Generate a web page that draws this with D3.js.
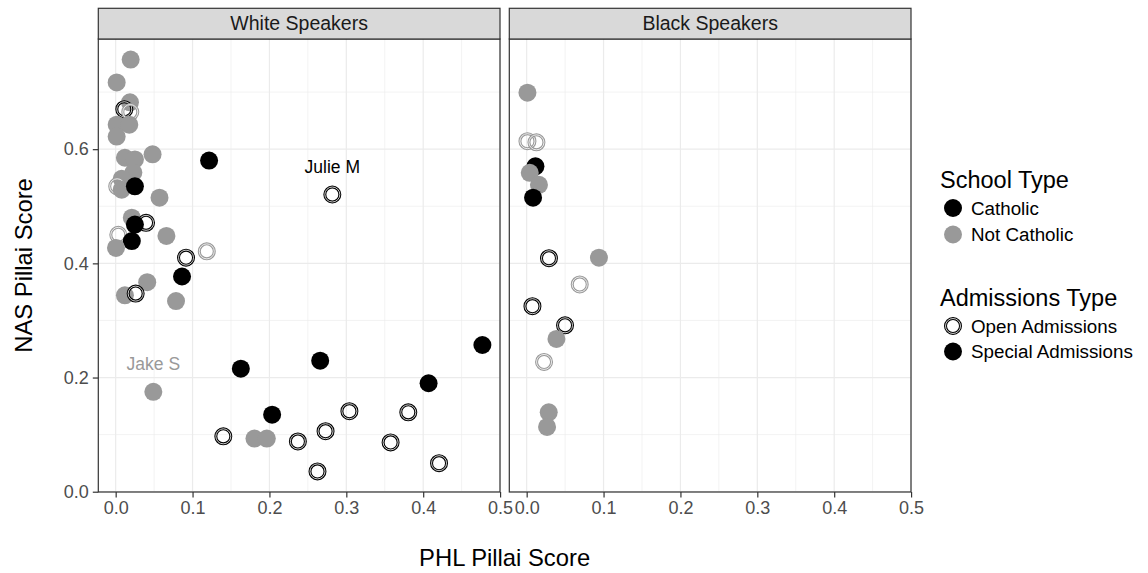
<!DOCTYPE html>
<html><head><meta charset="utf-8">
<script src="https://cdn.jsdelivr.net/npm/d3@7"></script>
<style>body{margin:0;background:#fff;}svg{display:block;font-family:"Liberation Sans",Arial,sans-serif;}</style>
</head><body><div id="chart"></div>
<script>
// ---- data ----
const panels = ["White Speakers", "Black Speakers"];
// White speakers
const whitePHL = [0.0195,0.0013,0.0186,0.0112,0.019,0.0013,0.0177,0.0013,0.012,0.025,0.048,0.1215,0.023,0.0078,0.002,0.0078,0.025,0.057,0.021,0.0395,0.025,0.0034,0.021,0.0004,0.066,0.1185,0.0915,0.0863,0.041,0.012,0.026,0.0785,0.049,0.1628,0.266,0.477,0.407,0.2035,0.140,0.1805,0.1966,0.237,0.273,0.2625,0.304,0.3806,0.3576,0.4206,0.2818];
const whiteNAS = [0.757,0.717,0.682,0.670,0.665,0.643,0.643,0.622,0.585,0.582,0.591,0.580,0.559,0.548,0.535,0.529,0.535,0.515,0.480,0.471,0.468,0.450,0.439,0.427,0.448,0.421,0.410,0.377,0.367,0.344,0.347,0.334,0.175,0.2156,0.2296,0.257,0.190,0.135,0.097,0.093,0.093,0.088,0.106,0.0356,0.141,0.139,0.0864,0.050,0.5206];
const whiteSchool = ["N","N","N","C","N","N","N","N","N","N","N","C","N","N","N","N","C","N","N","C","C","N","C","N","N","N","C","C","N","N","C","N","N","C","C","C","C","C","C","N","N","C","C","C","C","C","C","C","C"];
const whiteAdm = ["S","S","S","O","O","S","S","S","S","S","S","S","S","S","O","S","S","S","S","O","S","O","S","S","S","O","O","S","S","S","O","S","S","S","S","S","S","S","O","S","S","O","O","O","O","O","O","O","O"];
const whiteNames = {32:"Jake S", 48:"Julie M"};
// Black speakers
const blackPHL = [0.001,0.001,0.0127,0.0114,0.004,0.016,0.0083,0.029,0.094,0.069,0.0075,0.0499,0.0387,0.0226,0.0287,0.0265];
const blackNAS = [0.699,0.614,0.612,0.570,0.5586,0.5376,0.515,0.409,0.410,0.363,0.325,0.2915,0.2677,0.2273,0.139,0.1134];
const blackSchool = ["N","N","N","C","N","N","C","C","N","N","C","C","N","N","N","N"];
const blackAdm = ["S","O","O","S","S","S","S","O","S","O","O","O","S","O","S","S"];

const xTicks = [0,0.1,0.2,0.3,0.4,0.5];
const yTicks = [0,0.2,0.4,0.6];
const schoolLevels = ["C","N"], schoolLabels = ["Catholic","Not Catholic"];
const admLevels = ["O","S"], admLabels = ["Open Admissions","Special Admissions"];

// ---- layout ----
const W = 1148, H = 573;
const panelX = [[98.3, 500], [509.3, 911]];
const panelTop = 39, panelBottom = 492, stripTop = 8.3;
const R = 9;
const colour = d3.scaleOrdinal().domain(schoolLevels).range(["#000000", "#999999"]);

const svg = d3.select("#chart").append("svg").attr("width", W).attr("height", H);
const y = d3.scaleLinear().domain([-0.0005, 0.793]).range([panelBottom, panelTop]);

const datasets = [
  whitePHL.map((v,i)=>({x:v, y:whiteNAS[i], s:whiteSchool[i], a:whiteAdm[i], name:whiteNames[i]})),
  blackPHL.map((v,i)=>({x:v, y:blackNAS[i], s:blackSchool[i], a:blackAdm[i]}))
];

function drawPoint(g, cx, cy, s, a) {
  const c = colour(s);
  if (a === "S") {
    g.append("circle").attr("cx", cx).attr("cy", cy).attr("r", R).attr("fill", c);
  } else {
    g.append("circle").attr("cx", cx).attr("cy", cy).attr("r", R - 1.5)
      .attr("fill", "none").attr("stroke", c).attr("stroke-width", 3);
    g.append("circle").attr("cx", cx).attr("cy", cy).attr("r", R - 1.5)
      .attr("fill", "none").attr("stroke", "#fff").attr("stroke-width", 0.8);
  }
}

panels.forEach((name, pi) => {
  const [x0, x1] = panelX[pi];
  const x = d3.scaleLinear().domain([-0.0226, 0.4999]).range([x0, x1]);
  const g = svg.append("g");
  // grid minor
  const xMinor = [0.05,0.15,0.25,0.35,0.45];
  const yMinor = [0.1,0.3,0.5,0.7];
  g.selectAll(null).data(xMinor).enter().append("line")
    .attr("x1", d=>x(d)).attr("x2", d=>x(d)).attr("y1", panelTop).attr("y2", panelBottom)
    .attr("stroke", "#EBEBEB").attr("stroke-width", 0.6);
  g.selectAll(null).data(yMinor).enter().append("line")
    .attr("y1", d=>y(d)).attr("y2", d=>y(d)).attr("x1", x0).attr("x2", x1)
    .attr("stroke", "#EBEBEB").attr("stroke-width", 0.6);
  g.selectAll(null).data(xTicks).enter().append("line")
    .attr("x1", d=>x(d)).attr("x2", d=>x(d)).attr("y1", panelTop).attr("y2", panelBottom)
    .attr("stroke", "#EBEBEB").attr("stroke-width", 1.2);
  g.selectAll(null).data(yTicks).enter().append("line")
    .attr("y1", d=>y(d)).attr("y2", d=>y(d)).attr("x1", x0).attr("x2", x1)
    .attr("stroke", "#EBEBEB").attr("stroke-width", 1.2);

  // points
  const pg = g.append("g");
  datasets[pi].forEach(d => drawPoint(pg, x(d.x), y(d.y), d.s, d.a));
  // labels
  datasets[pi].filter(d=>d.name).forEach(d => {
    g.append("text").attr("x", x(d.x)).attr("y", y(d.y) - 22)
      .attr("text-anchor", "middle").attr("font-size", 17.5)
      .attr("fill", colour(d.s)).text(d.name);
  });

  // border
  g.append("rect").attr("x", x0).attr("y", panelTop).attr("width", x1 - x0).attr("height", panelBottom - panelTop)
    .attr("fill", "none").attr("stroke", "#333333").attr("stroke-width", 1.2);
  // strip
  g.append("rect").attr("x", x0).attr("y", stripTop).attr("width", x1 - x0).attr("height", panelTop - stripTop)
    .attr("fill", "#D9D9D9").attr("stroke", "#333333").attr("stroke-width", 1.2);
  g.append("text").attr("x", (x0 + x1) / 2).attr("y", (stripTop + panelTop) / 2 + 6.8)
    .attr("text-anchor", "middle").attr("font-size", 19.5).attr("fill", "#1A1A1A").text(name);

  // x axis
  const xa = d3.axisBottom(x).tickValues(xTicks).tickSize(5.5).tickPadding(4)
    .tickFormat(d3.format(".1f"));
  const ax = svg.append("g").attr("transform", `translate(0,${panelBottom})`).call(xa);
  ax.select(".domain").remove();
  ax.selectAll(".tick line").attr("stroke", "#333333").attr("stroke-width", 1.2);
  ax.selectAll(".tick text").attr("fill", "#4D4D4D").attr("font-size", 18)
    .attr("font-family", "Liberation Sans, Arial, sans-serif");
});

// y axis
const ya = d3.axisLeft(y).tickValues(yTicks).tickSize(5.5).tickPadding(4).tickFormat(d3.format(".1f"));
const ay = svg.append("g").attr("transform", `translate(${panelX[0][0]},0)`).call(ya);
ay.select(".domain").remove();
ay.selectAll(".tick line").attr("stroke", "#333333").attr("stroke-width", 1.2);
ay.selectAll(".tick text").attr("fill", "#4D4D4D").attr("font-size", 18)
  .attr("font-family", "Liberation Sans, Arial, sans-serif");

// axis titles
svg.append("text").attr("x", (panelX[0][0] + panelX[1][1]) / 2).attr("y", 566)
  .attr("text-anchor", "middle").attr("font-size", 23.8).attr("fill", "#000").text("PHL Pillai Score");
svg.append("text").attr("transform", `translate(32,${(panelTop + panelBottom) / 2}) rotate(-90)`)
  .attr("text-anchor", "middle").attr("font-size", 23.8).attr("fill", "#000").text("NAS Pillai Score");

// legends
const lg = svg.append("g");
lg.append("text").attr("x", 940).attr("y", 188).attr("font-size", 23.5).text("School Type");
schoolLevels.forEach((lv, i) => {
  const cy = 208 + i * 26.5;
  drawPoint(lg, 953, cy, lv, "S");
  lg.append("text").attr("x", 971).attr("y", cy + 6.5).attr("font-size", 18.8).attr("fill", "#000").text(schoolLabels[i]);
});
lg.append("text").attr("x", 940).attr("y", 306).attr("font-size", 23.5).text("Admissions Type");
admLevels.forEach((lv, i) => {
  const cy = 326 + i * 25.5;
  drawPoint(lg, 953, cy, "C", lv);
  lg.append("text").attr("x", 971).attr("y", cy + 6.5).attr("font-size", 18.8).attr("fill", "#000").text(admLabels[i]);
});
</script></body></html>
